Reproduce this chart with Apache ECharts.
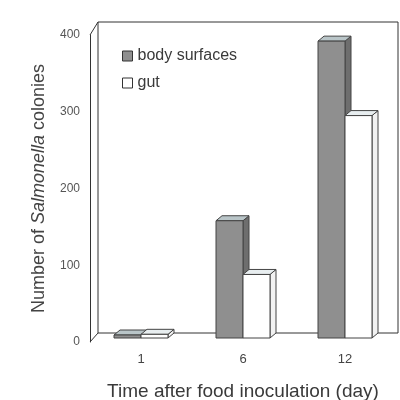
<!DOCTYPE html>
<html>
<head>
<meta charset="utf-8">
<script src="https://cdn.jsdelivr.net/npm/echarts@6/dist/echarts.min.js"></script>
<style>
  html, body { margin: 0; padding: 0; background: #fff; }
  #chart { width: 400px; height: 400px; }
</style>
</head>
<body>
<div id="chart"></div>
<script>
// data
const days = ["1", "6", "12"];
const bodySurfaces = [3, 158, 392];
const gut = [10, 88, 295];
const yTicks = [0, 100, 200, 300, 400];

// layout of the pseudo-3D box
const LEFT = 90, RIGHT = 4, TOP = 35, BOTTOM = 58;
const DX = 8, DY = -9; // depth offset of the back wall
const BAR_W = 27;

const chart = echarts.init(document.getElementById("chart"));

// draws one bar with a front face, a top face and a right side face
const make3dBar = (offset, front, side, top, stroke) => (params, api) => {
  const base = api.coord([api.value(0), 0]);
  const peak = api.coord([api.value(0), api.value(1)]);
  const x0 = base[0] + offset;
  const x1 = x0 + BAR_W;
  const yb = base[1] - 4;
  const yt = Math.min(peak[1], yb - 3);
  const d = 6, e = -5;
  return {
    type: "group",
    children: [
      {
        type: "polygon",
        shape: { points: [[x1, yb], [x1 + d, yb + e], [x1 + d, yt + e], [x1, yt]] },
        style: { fill: side, stroke: stroke, lineWidth: 1 },
      },
      {
        type: "polygon",
        shape: { points: [[x0, yt], [x0 + d, yt + e], [x1 + d, yt + e], [x1, yt]] },
        style: { fill: top, stroke: stroke, lineWidth: 1 },
      },
      {
        type: "rect",
        shape: { x: x0, y: yt, width: BAR_W, height: yb - yt },
        style: { fill: front, stroke: stroke, lineWidth: 1 },
      },
    ],
  };
};

const toItems = (arr) => arr.map((v, i) => [i, v]);

const option = {
  backgroundColor: "#fff",
  animation: false,
  textStyle: { fontFamily: "Liberation Sans, Arial, sans-serif" },
  grid: [
    { left: LEFT, right: RIGHT, top: TOP, bottom: BOTTOM, outerBoundsMode: "none", containLabel: false },
    {
      left: LEFT + DX, right: 2, top: TOP + DY - 4, bottom: BOTTOM - DY,
      outerBoundsMode: "none", containLabel: false,
      show: true, borderColor: "#333", borderWidth: 1, backgroundColor: "transparent",
    },
  ],
  legend: {
    orient: "vertical",
    left: 117,
    top: 43,
    itemGap: 11,
    itemWidth: 10,
    itemHeight: 10,
    icon: "rect",
    textStyle: { fontSize: 16, color: "#3a3a3a" },
    data: [
      { name: "body surfaces", itemStyle: { color: "#8f8f8f", borderColor: "#333", borderWidth: 1 } },
      { name: "gut", itemStyle: { color: "#fff", borderColor: "#333", borderWidth: 1 } },
    ],
  },
  xAxis: [
    {
      type: "category",
      data: days,
      gridIndex: 0,
      axisLine: { show: false },
      axisTick: { show: false },
      axisLabel: { margin: 11, fontSize: 13, color: "#444" },
      name: "Time after food inoculation (day)",
      nameLocation: "middle",
      nameGap: 40,
      nameTextStyle: { fontSize: 19, color: "#3a3a3a" },
    },
    { type: "value", gridIndex: 1, show: false },
  ],
  yAxis: [
    {
      type: "value",
      gridIndex: 0,
      min: 0,
      max: 400,
      interval: 100,
      axisLine: { show: true, lineStyle: { color: "#333", width: 1 } },
      axisTick: { show: false },
      splitLine: { show: false },
      axisLabel: {
        margin: 10,
        fontSize: 12,
        color: "#555",
        formatter: (v) => (yTicks.includes(v) ? String(v) : ""),
      },
      name: "{a|Number of }{b|Salmonella}{a| colonies}",
      nameLocation: "middle",
      nameGap: 42,
      nameTextStyle: {
        rich: {
          a: { fontSize: 18, color: "#444" },
          b: { fontSize: 18, color: "#444", fontStyle: "italic" },
        },
      },
    },
    { type: "value", gridIndex: 1, show: false },
  ],
  graphic: [
    {
      type: "polyline",
      shape: { points: [[LEFT, TOP], [LEFT + DX, TOP + DY - 4]] },
      style: { stroke: "#333", lineWidth: 1, fill: null },
    },
    {
      type: "polyline",
      shape: { points: [[LEFT, 400 - BOTTOM], [LEFT + DX, 400 - BOTTOM + DY]] },
      style: { stroke: "#333", lineWidth: 1, fill: null },
    },
  ],
  series: [
    {
      name: "body surfaces",
      type: "custom",
      xAxisIndex: 0,
      yAxisIndex: 0,
      itemStyle: { color: "#8f8f8f" },
      renderItem: make3dBar(-BAR_W, "#8f8f8f", "#6e6e6e", "#b9c5c8", "#444"),
      data: toItems(bodySurfaces),
    },
    {
      name: "gut",
      type: "custom",
      xAxisIndex: 0,
      yAxisIndex: 0,
      itemStyle: { color: "#fff" },
      renderItem: make3dBar(0, "#fff", "#f2f2f2", "#e8eef0", "#444"),
      data: toItems(gut),
    },
  ],
};

chart.setOption(option);
</script>
</body>
</html>
